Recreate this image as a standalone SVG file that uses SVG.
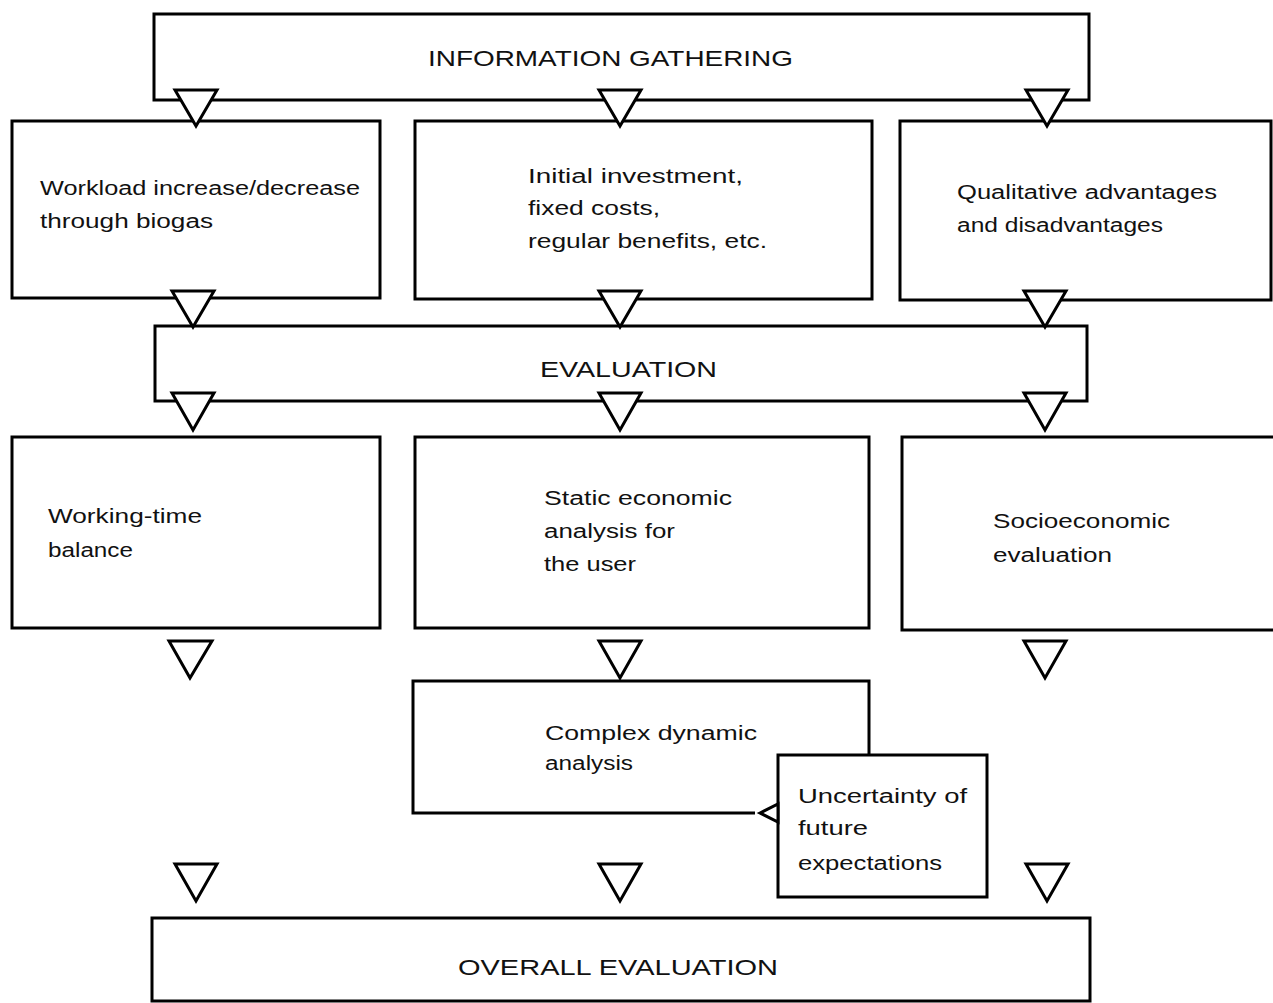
<svg xmlns="http://www.w3.org/2000/svg" width="1273" height="1003" viewBox="0 0 1273 1003">
<defs>
<style>
.box{fill:#fff;stroke:#000;stroke-width:3}
.ln{fill:none;stroke:#000;stroke-width:3}
.tri{fill:#fff;stroke:#000;stroke-width:3;stroke-linejoin:miter}
.t{font-family:"Liberation Sans",Arial,sans-serif;font-size:20px;fill:#111}
.h{font-family:"Liberation Sans",Arial,sans-serif;font-size:22px;fill:#111}
</style>
</defs>
<rect width="1273" height="1003" fill="#fff"/>
<g id="info">
<rect class="box" x="154" y="14" width="935" height="86"/>
<text class="h" x="428" y="66" textLength="365" lengthAdjust="spacingAndGlyphs">INFORMATION GATHERING</text>
</g>
<g id="workload">
<rect class="box" x="12" y="121" width="368" height="177"/>
<text class="t" x="40" y="195" textLength="320" lengthAdjust="spacingAndGlyphs">Workload increase/decrease</text>
<text class="t" x="40" y="228" textLength="173" lengthAdjust="spacingAndGlyphs">through biogas</text>
</g>
<g id="investment">
<rect class="box" x="415" y="121" width="457" height="178"/>
<text class="t" x="528" y="183" textLength="215" lengthAdjust="spacingAndGlyphs">Initial investment,</text>
<text class="t" x="528" y="215" textLength="132" lengthAdjust="spacingAndGlyphs">fixed costs,</text>
<text class="t" x="528" y="248" textLength="239" lengthAdjust="spacingAndGlyphs">regular benefits, etc.</text>
</g>
<g id="qualitative">
<rect class="box" x="900" y="121" width="371" height="179"/>
<text class="t" x="957" y="199" textLength="260" lengthAdjust="spacingAndGlyphs">Qualitative advantages</text>
<text class="t" x="957" y="232" textLength="206" lengthAdjust="spacingAndGlyphs">and disadvantages</text>
</g>
<g id="evaluation">
<rect class="box" x="155" y="326" width="932" height="75"/>
<text class="h" x="540" y="377" textLength="177" lengthAdjust="spacingAndGlyphs">EVALUATION</text>
</g>
<g id="workingtime">
<rect class="box" x="12" y="437" width="368" height="191"/>
<text class="t" x="48" y="523" textLength="154" lengthAdjust="spacingAndGlyphs">Working-time</text>
<text class="t" x="48" y="557" textLength="85" lengthAdjust="spacingAndGlyphs">balance</text>
</g>
<g id="static">
<rect class="box" x="415" y="437" width="454" height="191"/>
<text class="t" x="544" y="505" textLength="188" lengthAdjust="spacingAndGlyphs">Static economic</text>
<text class="t" x="544" y="538" textLength="131" lengthAdjust="spacingAndGlyphs">analysis for</text>
<text class="t" x="544" y="571" textLength="92" lengthAdjust="spacingAndGlyphs">the user</text>
</g>
<g id="socio">
<rect class="box" x="902" y="437" width="380" height="193"/>
<text class="t" x="993" y="528" textLength="177" lengthAdjust="spacingAndGlyphs">Socioeconomic</text>
<text class="t" x="993" y="562" textLength="119" lengthAdjust="spacingAndGlyphs">evaluation</text>
</g>
<g id="complex">
<path class="ln" d="M869,755 V681 H413 V813 H755"/>
<text class="t" x="545" y="740" textLength="212" lengthAdjust="spacingAndGlyphs">Complex dynamic</text>
<text class="t" x="545" y="770" textLength="88" lengthAdjust="spacingAndGlyphs">analysis</text>
</g>
<g id="uncertainty">
<rect class="box" x="778" y="755" width="209" height="142"/>
<text class="t" x="798" y="803" textLength="169" lengthAdjust="spacingAndGlyphs">Uncertainty of</text>
<text class="t" x="798" y="835" textLength="70" lengthAdjust="spacingAndGlyphs">future</text>
<text class="t" x="798" y="870" textLength="144" lengthAdjust="spacingAndGlyphs">expectations</text>
</g>
<g id="overall">
<rect class="box" x="152" y="918" width="938" height="83"/>
<text class="h" x="458" y="975" textLength="320" lengthAdjust="spacingAndGlyphs">OVERALL EVALUATION</text>
</g>
<g id="connectors">
<polygon class="tri" points="175,90 217,90 196,126"/>
<polygon class="tri" points="599,90 641,90 620,126"/>
<polygon class="tri" points="1026,90 1068,90 1047,126"/>
<polygon class="tri" points="172,291 214,291 193,327"/>
<polygon class="tri" points="599,291 641,291 620,327"/>
<polygon class="tri" points="1024,291 1066,291 1045,327"/>
<polygon class="tri" points="172,393 214,393 193,430"/>
<polygon class="tri" points="599,393 641,393 620,430"/>
<polygon class="tri" points="1024,393 1066,393 1045,430"/>
<polygon class="tri" points="169,641 212,641 190,678"/>
<polygon class="tri" points="599,641 641,641 620,678"/>
<polygon class="tri" points="1024,641 1066,641 1045,678"/>
<polygon class="tri" points="175,864 217,864 196,901"/>
<polygon class="tri" points="599,864 641,864 620,901"/>
<polygon class="tri" points="1026,864 1068,864 1047,901"/>
<polygon class="tri" points="760,813 778,804 778,822"/>
</g>
</svg>
